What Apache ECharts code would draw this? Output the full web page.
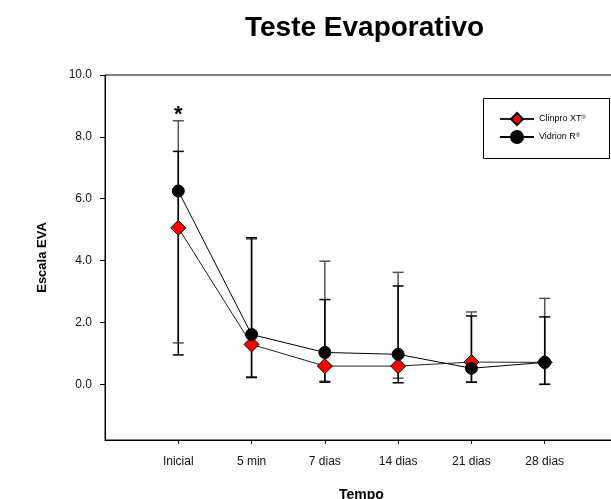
<!DOCTYPE html>
<html>
<head>
    <meta charset="utf-8">
    <title>Teste Evaporativo</title>
    <script src="https://cdn.jsdelivr.net/npm/echarts@6/dist/echarts.min.js"></script>
</head>
<body style="margin:0">
<div id="main" style="height: 499px; width: 611px;"></div>
<script type="text/javascript">
    // categories and values
    var categories = ['Inicial', '5 min', '7 dias', '14 dias', '21 dias', '28 dias'];
    var clinproMean = [5.06, 1.29, 0.59, 0.59, 0.72, 0.71];
    var clinproUpper = [8.52, 4.70, 3.98, 3.62, 2.34, 2.78];
    var clinproLower = [1.34, 0.24, 0.10, 0.20, 0.07, 0.00];
    var vidrionMean = [6.25, 1.61, 1.03, 0.97, 0.52, 0.71];
    var vidrionUpper = [7.53, 4.74, 2.74, 3.18, 2.21, 2.18];
    var vidrionLower = [0.95, 0.22, 0.07, 0.05, 0.07, 0.00];
    var yTicks = [0, 2, 4, 6, 8, 10];

    var font = 'Arial, "Liberation Sans", sans-serif';
    var myChart = echarts.init(document.getElementById('main'));

    function points(vals) {
        var d = [];
        for (var i = 0; i < vals.length; i++) d.push([i + 1, vals[i]]);
        return d;
    }
    function barData(lo, hi) {
        var d = [];
        for (var i = 0; i < lo.length; i++) d.push([i + 1, lo[i], hi[i]]);
        return d;
    }
    function errorBar(color) {
        return function (params, api) {
            var lo = api.coord([api.value(0), api.value(1)]);
            var hi = api.coord([api.value(0), api.value(2)]);
            var w = 5.5;
            var st = { stroke: color, lineWidth: 1.5 };
            return {
                type: 'group',
                children: [
                    { type: 'line', shape: { x1: lo[0], y1: lo[1], x2: hi[0], y2: hi[1] }, style: st },
                    { type: 'line', shape: { x1: lo[0] - w, y1: lo[1], x2: lo[0] + w, y2: lo[1] }, style: st },
                    { type: 'line', shape: { x1: hi[0] - w, y1: hi[1], x2: hi[0] + w, y2: hi[1] }, style: st }
                ]
            };
        };
    }

    var option = {
        backgroundColor: '#fff',
        animation: false,
        textStyle: { fontFamily: font },
        title: {
            text: 'Teste Evaporativo',
            left: 240,
            top: 9,
            textStyle: { fontSize: 28, fontWeight: 'bold', color: '#000', fontFamily: font }
        },
        legend: {
            orient: 'vertical',
            left: 494,
            top: 107,
            itemGap: 4,
            itemWidth: 34,
            itemHeight: 15,
            data: ['Clinpro XT', 'Vidrion R'],
            formatter: function (n) { return n + '{s|®}'; },
            textStyle: {
                fontSize: 9, color: '#000', fontFamily: font,
                rich: { s: { fontSize: 6, verticalAlign: 'top', padding: [0, 0, 4, 0] } }
            }
        },
        graphic: [{
            type: 'rect',
            shape: { x: 483.5, y: 98.5, width: 126, height: 60 },
            style: { fill: 'none', stroke: '#000', lineWidth: 1 }
        }],
        grid: {
            left: 105,
            top: 75,
            right: -7,
            bottom: 59,
            outerBoundsMode: 'none',
            containLabel: false,
            show: true,
            borderColor: '#000',
            borderWidth: 1
        },
        xAxis: {
            type: 'value',
            min: 0,
            max: 7,
            name: 'Tempo',
            nameLocation: 'middle',
            nameGap: 48,
            nameTextStyle: { fontSize: 14, fontWeight: 'bold', color: '#000', fontFamily: font },
            axisLine: { onZero: false, lineStyle: { color: '#000' } },
            axisTick: { inside: false, length: 4, lineStyle: { color: '#000' }, customValues: [1, 2, 3, 4, 5, 6] },
            axisLabel: {
                margin: 16, fontSize: 12, color: '#111', fontFamily: font,
                customValues: [1, 2, 3, 4, 5, 6],
                formatter: function (v) { return categories[Math.round(v) - 1] || ''; }
            },
            splitLine: { show: false }
        },
        yAxis: {
            type: 'value',
            min: -1.8,
            max: 10,
            name: 'Escala EVA',
            nameLocation: 'middle',
            nameRotate: 90,
            nameGap: 56,
            nameTextStyle: { fontSize: 13, fontWeight: 'bold', color: '#000', fontFamily: font },
            axisLine: { show: true, onZero: false, lineStyle: { color: '#000' } },
            axisTick: { show: true, length: 5, lineStyle: { color: '#000' }, customValues: yTicks },
            axisLabel: {
                margin: 13, fontSize: 12, color: '#111', fontFamily: font,
                customValues: yTicks,
                formatter: function (v) { return v.toFixed(1); }
            },
            splitLine: { show: false }
        },
        series: [
            {
                name: 'Clinpro XT bars',
                type: 'custom',
                renderItem: errorBar('#555'),
                data: barData(clinproLower, clinproUpper),
                z: 1
            },
            {
                name: 'Vidrion R bars',
                type: 'custom',
                renderItem: errorBar('#000'),
                data: barData(vidrionLower, vidrionUpper),
                z: 1
            },
            {
                name: 'Clinpro XT',
                type: 'line',
                data: points(clinproMean),
                symbol: 'diamond',
                symbolSize: 15,
                lineStyle: { color: '#222', width: 1 },
                itemStyle: { color: '#ff0000', borderColor: '#000', borderWidth: 1 },
                markPoint: {
                    symbol: 'circle',
                    symbolSize: 1,
                    itemStyle: { color: 'rgba(0,0,0,0)' },
                    label: { show: true, formatter: '*', fontSize: 22, fontWeight: 'bold', color: '#000', offset: [0, 4] },
                    data: [{ coord: [1, 8.85] }]
                },
                z: 3
            },
            {
                name: 'Vidrion R',
                type: 'line',
                data: points(vidrionMean),
                symbol: 'circle',
                symbolSize: 12,
                lineStyle: { color: '#000', width: 1 },
                itemStyle: { color: '#000', borderColor: '#000', borderWidth: 1 },
                z: 4
            }
        ]
    };

    myChart.setOption(option);
</script>
</body>
</html>
